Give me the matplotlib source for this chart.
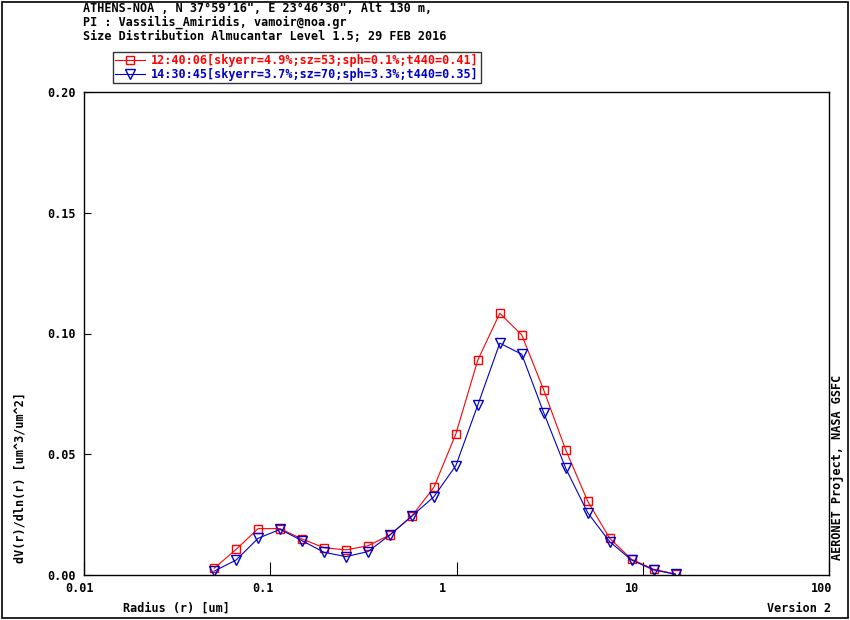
import matplotlib
matplotlib.use("Agg")
from matplotlib import pyplot as plt
from matplotlib.transforms import ScaledTranslation
from matplotlib.patches import Rectangle

# AERONET radius bins (um)
radius = [0.050, 0.065604, 0.086077, 0.112939, 0.148184, 0.194429, 0.255105,
          0.334716, 0.439173, 0.576227, 0.756052, 0.991996, 1.301571, 1.707757,
          2.240702, 2.939966, 3.857452, 5.061260, 6.640745, 8.713145,
          11.432287, 15.000000]

dv_1240 = [0.0028, 0.0106, 0.0192, 0.0192, 0.0149, 0.0113, 0.0104, 0.0121,
           0.0166, 0.0244, 0.0363, 0.0584, 0.0890, 0.1084, 0.0994, 0.0766,
           0.0518, 0.0306, 0.0152, 0.0065, 0.0024, 0.0004]
dv_1430 = [0.0016, 0.0062, 0.0152, 0.0189, 0.0142, 0.0094, 0.0076, 0.0097,
           0.0166, 0.0244, 0.0324, 0.0453, 0.0704, 0.0960, 0.0914, 0.0672,
           0.0442, 0.0258, 0.0138, 0.0062, 0.0021, 0.0003]

label_1240 = "12:40:06[skyerr=4.9%;sz=53;sph=0.1%;t440=0.41]"
label_1430 = "14:30:45[skyerr=3.7%;sz=70;sph=3.3%;t440=0.35]"

xticks = [0.01, 0.1, 1, 10, 100]
xticklabels = ["0.01", "0.1", "1", "10", "100"]
yticks = [0.0, 0.05, 0.10, 0.15, 0.20]
yticklabels = ["0.00", "0.05", "0.10", "0.15", "0.20"]

title_lines = [
    "ATHENS-NOA , N 37\u00b059\u201916\", E 23\u00b046\u201930\", Alt 130 m,",
    "PI : Vassilis_Amiridis, vamoir@noa.gr",
    "Size Distribution Almucantar Level 1.5; 29 FEB 2016",
]

RED = "#ff0000"
BLUE = "#0000c8"
W, H = 850, 620
FS = 8.5

plt.rcParams["font.family"] = ["DejaVu Sans Mono"]
plt.rcParams["font.weight"] = "bold"

fig = plt.figure(figsize=(W / 100, H / 100), dpi=100)
ax = fig.add_axes([84 / W, 45 / H, (829 - 84) / W, (575 - 92) / H])

ax.plot(radius, dv_1240, "-", color=RED, lw=0.8, marker="s", ms=6,
        mfc="none", mec=RED, mew=1.0, label=label_1240)
ax.plot(radius, dv_1430, "-", color=BLUE, lw=0.8, marker="v", ms=6.5,
        mfc="none", mec=BLUE, mew=1.0, label=label_1430)

ax.set_xscale("log")
ax.set_xlim(0.01, 100)
ax.set_ylim(0, 0.20)
ax.set_xticks(xticks)
ax.set_xticklabels(xticklabels)
ax.minorticks_off()
ax.set_yticks(yticks)
ax.set_yticklabels(yticklabels)
ax.tick_params(axis="x", direction="in", length=9.5, width=0.8, pad=5,
               labelsize=FS, top=False)
ax.tick_params(axis="y", direction="in", length=5, width=0.8, pad=6,
               labelsize=FS, right=False)
for s in ax.spines.values():
    s.set_linewidth(1.0)

# labels sit a little left of their ticks in the original
offsets = [-4, -7, -14, -11, -7]
for lab, dx in zip(ax.get_xticklabels(), offsets):
    lab.set_transform(lab.get_transform() +
                      ScaledTranslation(dx / 100, 0, fig.dpi_scale_trans))

leg = ax.legend(loc="upper left", bbox_to_anchor=(113 / W, 1 - 52 / H),
                bbox_transform=fig.transFigure, fontsize=FS, frameon=True,
                fancybox=False, edgecolor="black", borderpad=0.15,
                borderaxespad=0, handlelength=2.6, handletextpad=0.5,
                labelspacing=0.1, markerscale=1.0)
leg.get_frame().set_linewidth(1.0)
for txt, c in zip(leg.get_texts(), [RED, BLUE]):
    txt.set_color(c)

for i, line in enumerate(title_lines):
    fig.text(83 / W, 1 - (9 + 13.5 * i) / H, line, fontsize=FS,
             ha="left", va="center")

fig.text(123 / W, 1 - 608 / H, "Radius (r) [um]", fontsize=FS,
         ha="left", va="center")
fig.text(831 / W, 1 - 608 / H, "Version 2", fontsize=FS,
         ha="right", va="center")
fig.text(20 / W, 1 - 563 / H, "dV(r)/dln(r) [um^3/um^2]", fontsize=FS,
         rotation=90, ha="center", va="bottom")
fig.text(837 / W, 1 - 560 / H, "AERONET Project, NASA GSFC", fontsize=FS,
         rotation=90, ha="center", va="bottom")

fig.patches.append(Rectangle((2 / W, 2 / H), (W - 4) / W, (H - 4) / H,
                             transform=fig.transFigure, fill=False,
                             edgecolor="black", linewidth=1.2))

fig.savefig("out.png", dpi=100)
